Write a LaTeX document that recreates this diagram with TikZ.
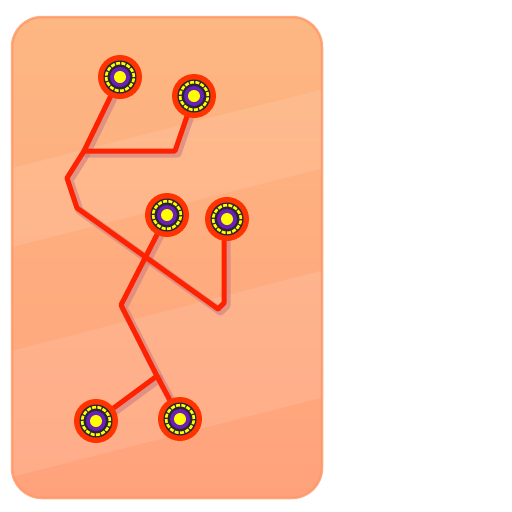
\documentclass[tikz,border=0pt]{standalone}
\usetikzlibrary{calc}
\pgfdeclarelayer{back}
\pgfdeclarelayer{wires}
\pgfsetlayers{back,wires,main}
\definecolor{bgtop}{RGB}{253,183,130}
\definecolor{bgbot}{RGB}{255,162,124}
\definecolor{bgedge}{RGB}{255,150,100}
\definecolor{wirered}{RGB}{255,34,0}
\definecolor{wireshadow}{RGB}{200,120,130}
\definecolor{pinred}{RGB}{255,51,0}
\definecolor{pindark}{RGB}{40,36,52}
\definecolor{pinpurple}{RGB}{106,31,181}
\definecolor{pinyellow}{RGB}{255,255,0}
\tikzset{
  pin/.style={circle, minimum size=44pt, inner sep=0pt, fill=pinred,
    path picture={
      \fill[pindark] (path picture bounding box.center) circle (16.5pt);
      \draw[pinyellow, line width=2.6pt, dash pattern=on 4pt off 1.4pt] (path picture bounding box.center) circle (13.8pt);
      \fill[pinpurple] (path picture bounding box.center) circle (10pt);
      \fill[pinyellow] (path picture bounding box.center) circle (6pt);
    }},
  wire/.style={draw=wirered, line width=5pt, line join=round, line cap=round},
  wireshade/.style={draw=wireshadow, line width=8pt, opacity=0.55, line join=round, line cap=round, transform canvas={xshift=2.5pt, yshift=-2.5pt}},
  panel/.style={rounded corners=30pt}
}
\begin{document}
\begin{tikzpicture}[x=1pt,y=-1pt]
\useasboundingbox (0,0) rectangle (512,512);
% panel
\begin{pgfonlayer}{back}
\shade[panel, top color=bgtop, bottom color=bgbot] (12,17) rectangle (322,498);
\begin{scope}
\clip[panel] (12,17) rectangle (322,498);
\fill[white, opacity=0.1] (0,171) -- (340,85) -- (340,164) -- (0,250) -- cycle;
\fill[white, opacity=0.1] (0,354) -- (340,266) -- (340,393) -- (0,480) -- cycle;
\end{scope}
\draw[panel, bgedge, line width=2.5pt, opacity=0.8] (12,17) rectangle (322,498);
\end{pgfonlayer}
% pins
\node[pin] (p1) at (120,77) {};
\node[pin] (p2) at (194,96) {};
\node[pin] (p3) at (167,215) {};
\node[pin] (p4) at (227,219) {};
\node[pin] (p5) at (96,421) {};
\node[pin] (p6) at (180,419) {};
% bends
\coordinate (j1) at (84,151);
\coordinate (c1) at (175,151);
\coordinate (k1) at (67,178);
\coordinate (k2) at (77,208);
\coordinate (k3) at (218,309);
\coordinate (k4) at (224,303);
\coordinate (m1) at (121,305);
\coordinate (j2) at (157,376);
\coordinate (p4b) at (224,219);
\begin{pgfonlayer}{wires}
\foreach \s in {wireshade, wire}{
  \path[\s] (p1.center) -- (j1) -- (c1) -- (p2.center);
  \path[\s] (j1) -- (k1) -- (k2) -- (k3) -- (k4) -- (p4b);
  \path[\s] (p3.center) -- (m1) -- (j2) -- (p6.center);
  \path[\s] (j2) -- (p5.center);
}
\end{pgfonlayer}
\end{tikzpicture}
\end{document}
